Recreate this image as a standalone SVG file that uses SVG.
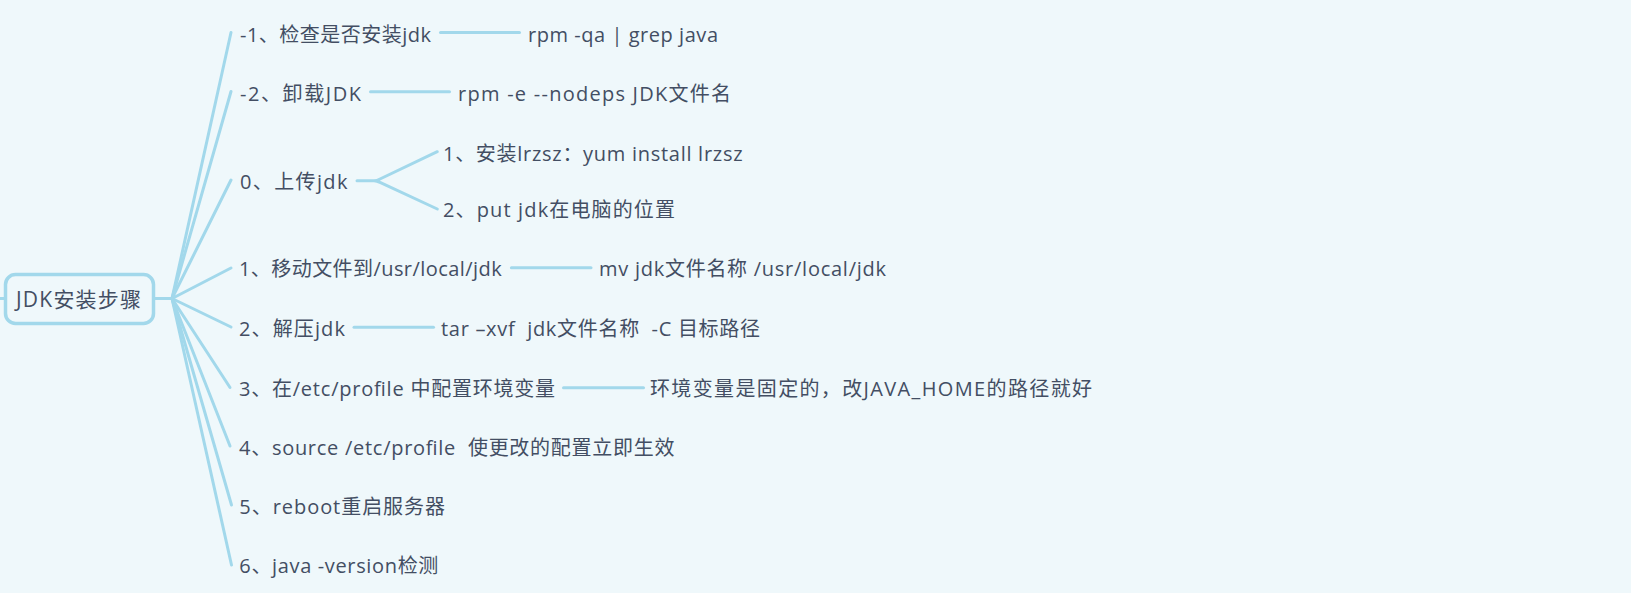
<svg xmlns="http://www.w3.org/2000/svg" width="1631" height="593" viewBox="0 0 1631 593">
<style>
.bg{fill:#eff8fb}
.t{font-family:"Open Sans","Noto Sans CJK SC",sans-serif;font-size:20px;fill:#434e63;white-space:pre}
.r{font-size:21px}
.ln{stroke:#a2d8eb;stroke-width:3;fill:none;stroke-linecap:round;stroke-linejoin:round}
.box{fill:#eff8fb;stroke:#a2d8eb;stroke-width:3.5}
</style>
<rect class="bg" x="0" y="0" width="1631" height="593"/>
<g id="connectors">
<line class="ln" x1="0" y1="298.5" x2="6" y2="298.5"/>
<line class="ln" x1="154" y1="298.5" x2="172" y2="298.5"/>
<line class="ln" x1="172" y1="298.5" x2="231" y2="32.5"/>
<line class="ln" x1="172" y1="298.5" x2="231" y2="91.5"/>
<line class="ln" x1="172" y1="298.5" x2="231" y2="180"/>
<line class="ln" x1="172" y1="298.5" x2="231" y2="268"/>
<line class="ln" x1="172" y1="298.5" x2="231" y2="327"/>
<line class="ln" x1="172" y1="298.5" x2="230" y2="387.5"/>
<line class="ln" x1="172" y1="298.5" x2="230" y2="446"/>
<line class="ln" x1="172" y1="298.5" x2="231.5" y2="505"/>
<line class="ln" x1="172" y1="298.5" x2="231.5" y2="565"/>
<line class="ln" x1="440.5" y1="32.5" x2="519.5" y2="32.5"/>
<line class="ln" x1="370.5" y1="91.7" x2="449.5" y2="91.7"/>
<path class="ln" d="M357 180.7 H374 Q377 180.7 380 179 L437.3 151.7 M374 180.7 Q377 180.7 380 182.4 L437.3 209"/>
<line class="ln" x1="511.4" y1="267.7" x2="591" y2="267.7"/>
<line class="ln" x1="354" y1="327.3" x2="433.5" y2="327.3"/>
<line class="ln" x1="563.5" y1="387.7" x2="643.5" y2="387.7"/>
</g>
<g id="root">
<rect class="box" x="5.5" y="274.5" width="148" height="49" rx="10" ry="10"/>
<text class="t r" x="16" y="306.5" textLength="125">JDK安装步骤</text>
</g>
<g id="n-1"><text class="t" x="240" y="41.5" textLength="191">-1、检查是否安装jdk</text></g>
<g id="n-1a"><text class="t" x="528" y="41.5" textLength="190">rpm -qa | grep java</text></g>
<g id="n-2"><text class="t" x="240" y="100.5" textLength="121">-2、卸载JDK</text></g>
<g id="n-2a"><text class="t" x="458" y="100.5" textLength="273">rpm -e --nodeps JDK文件名</text></g>
<g id="n0"><text class="t" x="240" y="188.5" textLength="107.5">0、上传jdk</text></g>
<g id="n0a"><text class="t" x="443" y="160.5" textLength="299.5">1、安装lrzsz：yum install lrzsz</text></g>
<g id="n0b"><text class="t" x="443" y="216.5" textLength="232">2、put jdk在电脑的位置</text></g>
<g id="n1"><text class="t" x="239" y="276" textLength="262.7">1、移动文件到/usr/local/jdk</text></g>
<g id="n1a"><text class="t" x="599" y="276" textLength="287">mv jdk文件名称 /usr/local/jdk</text></g>
<g id="n2"><text class="t" x="239" y="335.5" textLength="106">2、解压jdk</text></g>
<g id="n2a"><text class="t" x="441" y="335.5" textLength="319" xml:space="preserve">tar –xvf  jdk文件名称  -C 目标路径</text></g>
<g id="n3"><text class="t" x="239" y="395.5" textLength="316">3、在/etc/profile 中配置环境变量</text></g>
<g id="n3a"><text class="t" x="650" y="395.5" textLength="442">环境变量是固定的，改JAVA_HOME的路径就好</text></g>
<g id="n4"><text class="t" x="239" y="454.5" textLength="435.4" xml:space="preserve">4、source /etc/profile  使更改的配置立即生效</text></g>
<g id="n5"><text class="t" x="239.3" y="513.5" textLength="205.7">5、reboot重启服务器</text></g>
<g id="n6"><text class="t" x="239.3" y="572.5" textLength="199">6、java -version检测</text></g>
</svg>
